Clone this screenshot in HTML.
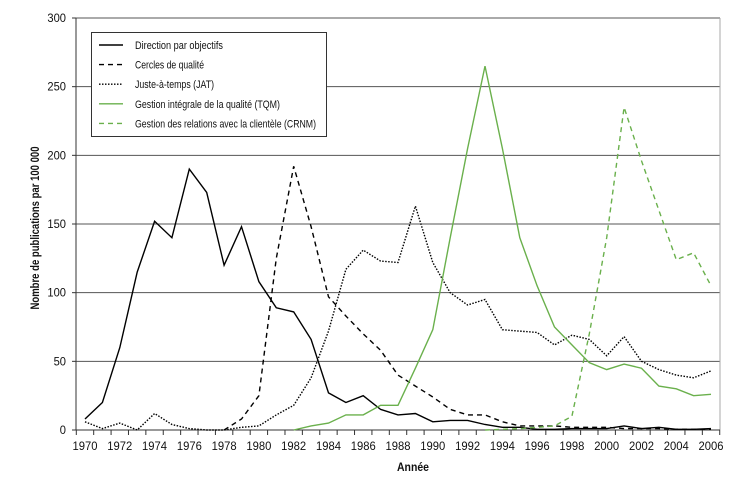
<!DOCTYPE html>
<html><head><meta charset="utf-8"><style>
body{margin:0;background:#fff;width:754px;height:479px;overflow:hidden}
svg text{font-family:"Liberation Sans Narrow","Liberation Sans",sans-serif;fill:#111}
</style></head><body>
<svg id="c" width="754" height="479"></svg>
<script>
const years=[];for(let y=1970;y<=2006;y++)years.push(y);
const dpo=[8,20,60,115,152,140,190,173,120,148,108,89,86,66,27,20,25,15,11,12,6,7,7,4,2,2,0.5,0.5,1,1,1,3,1,2,0.5,0.5,1];
const cercles=[null,null,null,null,null,null,null,null,0,8,25,125,192,148,97,83,70,58,40,32,24,15,11,11,6,3,3,3,2,2,2,1,1,1,0.5,0.5,0.5];
const jat=[6,1,5,0,12,4,1,0,0,2,3,11,18,38,72,117,131,123,122,163,122,100,91,95,73,72,71,62,69,66,54,68,50,44,40,38,43];
const tqm=[null,null,null,null,null,null,null,null,null,null,null,null,0,3,5,11,11,18,18,45,73,140,205,265,205,140,105,75,62,49,44,48,45,32,30,25,26];
const crnm=[null,null,null,null,null,null,null,null,null,null,null,null,null,null,null,null,null,null,null,null,null,null,null,0,0.5,1,2,3,10,70,140,235,196,160,124,129,105];
const yTicks=[0,50,100,150,200,250,300];
const xLabels=[1970,1972,1974,1976,1978,1980,1982,1984,1986,1988,1990,1992,1994,1996,1998,2000,2002,2004,2006];
const legendLabels=["Direction par objectifs","Cercles de qualité","Juste-à-temps (JAT)","Gestion intégrale de la qualité (TQM)","Gestion des relations avec la clientèle (CRNM)"];
const legendWidths=[88,69,79,145,181];

const svg=document.getElementById('c');const NS='http://www.w3.org/2000/svg';
const L=76,R=720,B=430;
const x=y=>85+(y-1970)*17.39;
const yv=v=>B-v*(412/300);
function el(t,a,p){const e=document.createElementNS(NS,t);for(const k in a)e.setAttribute(k,a[k]);(p||svg).appendChild(e);return e;}
yTicks.forEach(t=>{
 if(t>0){const g=el('line',{x1:L,x2:R,y1:yv(t),y2:yv(t),stroke:'#555','stroke-width':1});
 
 }
 const tx=el('text',{x:L-10,y:yv(t)+4,'text-anchor':'end','font-size':12,textLength:String(t).length*6.2,lengthAdjust:'spacingAndGlyphs'});tx.textContent=t;
 
 
 el('line',{x1:L-4,x2:L,y1:yv(t),y2:yv(t),stroke:'#333'});
});
const ax=el('line',{x1:L,x2:L,y1:yv(300),y2:B,stroke:'#333'});


el('line',{x1:R,x2:R,y1:yv(300),y2:B,stroke:'#aaa'});
const xa=el('line',{x1:L,x2:R,y1:B,y2:B,stroke:'#333'});


for(let i=0;i<=37;i++){const xx=x(1970)-8.7+i*17.39;el('line',{x1:xx,x2:xx,y1:B,y2:B+5,stroke:'#333'});}
xLabels.forEach(l=>{const t=el('text',{x:x(l),y:B+20,'text-anchor':'middle','font-size':12,textLength:25,lengthAdjust:'spacingAndGlyphs'});t.textContent=l;
 
 });
const xt=el('text',{x:413,y:471,'text-anchor':'middle','font-size':12,'font-weight':'bold',textLength:32,lengthAdjust:'spacingAndGlyphs'});xt.textContent='Année';


const yt=el('text',{x:0,y:0,transform:'translate(39,228) rotate(-90)','text-anchor':'middle','font-size':12,'font-weight':'bold',textLength:163,lengthAdjust:'spacingAndGlyphs'});yt.textContent='Nombre de publications par 100 000';


const series=[[dpo,'#000',''],[cercles,'#000','5,4'],[jat,'#000','1.5,1.5'],[tqm,'#6ab04c',''],[crnm,'#6ab04c','5,4']];
const names=['line-dpo','line-cercles','line-jat','line-tqm','line-crnm'];
series.forEach((s,i)=>{let d='';let pen=false;
 s[0].forEach((v,j)=>{if(v==null){pen=false;return;}d+=(pen?'L':'M')+x(years[j]).toFixed(1)+','+yv(v).toFixed(1);pen=true;});
 const p=el('path',{d:d,fill:'none',stroke:s[1],'stroke-width':1.4,'stroke-dasharray':s[2]});
 
 });
const lg=el('g',{});


el('rect',{x:91.5,y:32.5,width:235,height:104,fill:'#fff',stroke:'#333'},lg);
series.forEach((s,i)=>{const yy=45+i*19.6;
 el('line',{x1:99,x2:123,y1:yy,y2:yy,stroke:s[1],'stroke-width':1.4,'stroke-dasharray':s[2]},lg);
 const t=el('text',{x:135,y:yy+4,'font-size':11,textLength:legendWidths[i],lengthAdjust:'spacingAndGlyphs'},lg);t.textContent=legendLabels[i];
 
 });
</script>
</body></html>
